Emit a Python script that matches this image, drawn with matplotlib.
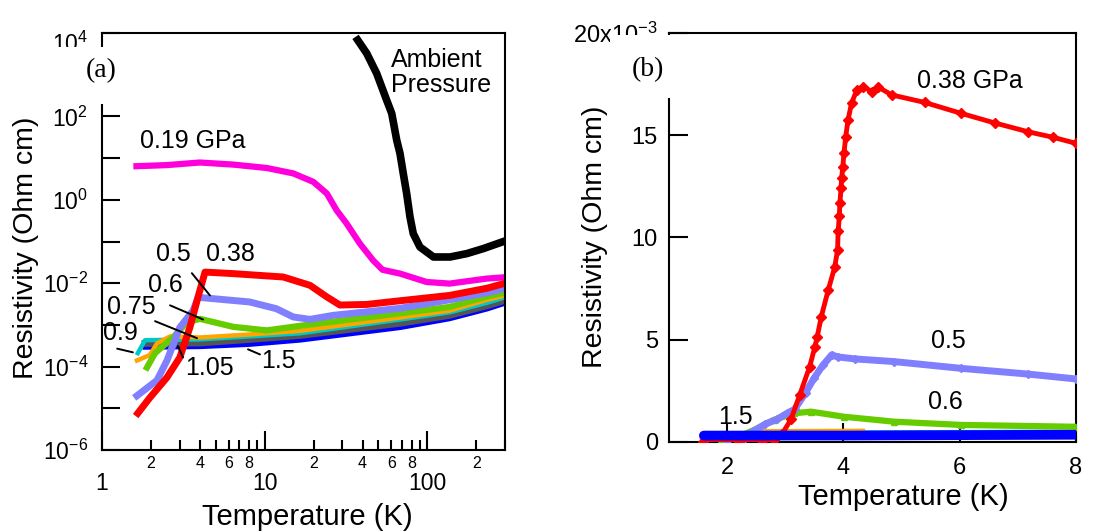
import numpy as np
import matplotlib.pyplot as plt
from matplotlib.ticker import (FixedLocator, FuncFormatter, NullFormatter,
                               FixedFormatter)
from matplotlib.patches import Rectangle

plt.rcParams['font.family'] = 'Liberation Sans'
plt.rcParams['mathtext.fontset'] = 'custom'
plt.rcParams['mathtext.rm'] = 'Liberation Sans'
plt.rcParams['mathtext.it'] = 'Liberation Sans:italic'
plt.rcParams['mathtext.default'] = 'regular'
plt.rcParams['axes.linewidth'] = 1.5

# ---- panel (a): log-log, resistivity in Ohm cm ----
amb_T = [37.3, 42.4, 48.8, 56.2, 60.4, 64.8, 67.9, 71.1, 74.6, 78.2, 81.9, 90, 109, 138, 175, 221, 300]
amb_rho = [6790, 3250, 1076, 246, 118, 27, 12.9, 4.3, 1.42, 0.39, 0.155, 0.074, 0.0426, 0.0426, 0.0514, 0.0678, 0.103]

p019_T = [1.63, 2.5, 4.0, 6.4, 10.3, 15.0, 19.9, 24.1, 27.7, 31.9, 38.5, 46.5, 53, 68, 99, 137, 231, 300]
p019_rho = [6.4, 6.8, 7.85, 7.0, 5.8, 4.3, 2.7, 1.42, 0.56, 0.27, 0.089, 0.035, 0.021, 0.017, 0.0107, 0.0098, 0.0129, 0.0139]

p038_T = [1.66, 1.97, 2.51, 3.01, 3.47, 3.89, 4.3, 6.4, 13.0, 19.0, 24.1, 29, 42.4, 68, 137, 233, 300]
p038_rho = [7.6e-6, 1.8e-5, 5.5e-5, 1.66e-4, 8.7e-4, 4.6e-3, 0.0185, 0.017, 0.0141, 0.0089, 0.0047, 0.0030, 0.0031, 0.0038, 0.0051, 0.0076, 0.010]

p05_T = [1.64, 2.18, 2.51, 3.01, 3.63, 3.9, 8.1, 11.8, 15.0, 19.0, 26.4, 68, 137, 233, 300]
p05_rho = [2.0e-5, 4.7e-5, 1.4e-4, 8.7e-4, 2.2e-3, 4.6e-3, 3.55e-3, 2.45e-3, 1.55e-3, 1.36e-3, 1.7e-3, 2.5e-3, 4.0e-3, 5.9e-3, 7.6e-3]

p06_T = [1.89, 2.12, 2.73, 3.33, 4.0, 6.4, 10.3, 16.5, 68, 137, 233, 300]
p06_rho = [9.5e-5, 2.1e-4, 5.0e-4, 1.15e-3, 1.4e-3, 9.0e-4, 7.4e-4, 9.5e-4, 1.9e-3, 2.7e-3, 4.8e-3, 6.0e-3]

p075_T = [1.64, 1.97, 2.18, 2.62, 4.0, 8.1, 16.5, 68, 137, 233, 300]
p075_rho = [1.4e-4, 1.9e-4, 3.6e-4, 5.3e-4, 5.0e-4, 5.9e-4, 7.2e-4, 1.5e-3, 2.2e-3, 4.0e-3, 5.1e-3]

p09_T = [1.66, 1.84, 4.0, 16.5, 68, 137, 233, 300]
p09_rho = [2.1e-4, 4.3e-4, 4.5e-4, 6.3e-4, 1.35e-3, 2.0e-3, 3.4e-3, 4.6e-3]

p105_T = [1.84, 4.0, 8.1, 16.5, 68, 137, 233, 300]
p105_rho = [3.6e-4, 3.7e-4, 4.5e-4, 5.6e-4, 1.1e-3, 1.7e-3, 2.9e-3, 3.9e-3]

p15_T = [1.84, 4.0, 8.1, 16.5, 68, 137, 233, 300]
p15_rho = [2.9e-4, 3.0e-4, 3.4e-4, 4.3e-4, 8.6e-4, 1.4e-3, 2.4e-3, 3.3e-3]

# ---- panel (b): linear, resistivity in 10^-3 Ohm cm ----
r038_T = [1.59, 2.2, 2.6, 2.8, 2.95, 3.1, 3.25, 3.42, 3.51, 3.55, 3.62, 3.74, 3.85, 3.9, 3.91, 3.93,
          3.94, 3.96, 3.97, 3.99, 4.01, 4.04, 4.08, 4.14, 4.23, 4.34, 4.49, 4.6, 4.83, 5.4, 6.02, 6.6,
          7.17, 7.6, 8.0]
r038_rho = [0.0, 0.0, 0.03, 0.1, 0.4, 1.1, 2.3, 3.67, 4.65, 5.14, 6.12, 7.43, 8.54, 9.38, 10.31, 11.05,
            11.7, 12.4, 12.89, 13.46, 14.12, 14.93, 15.75, 16.56, 17.2, 17.38, 17.13, 17.35, 16.97, 16.6,
            16.07, 15.6, 15.17, 14.9, 14.6]

r05_T = [1.59, 2.0, 2.3, 2.45, 2.65, 2.86, 3.05, 3.16, 3.35, 3.5, 3.65, 3.8, 3.9, 4.2, 4.87, 6.02, 7.17, 8.0]
r05_rho = [0.0, 0.05, 0.2, 0.5, 0.85, 1.1, 1.42, 1.58, 2.4, 3.13, 3.75, 4.25, 4.15, 4.05, 3.92, 3.59, 3.31, 3.07]

r06_T = [1.9, 2.2, 2.46, 2.8, 3.15, 3.44, 4.01, 4.87, 6.02, 8.0]
r06_rho = [0.1, 0.25, 0.57, 1.06, 1.39, 1.47, 1.22, 0.98, 0.82, 0.73]

r075_T = [1.6, 2.0, 2.45, 4.35]
r075_rho = [0.1, 0.2, 0.55, 0.57]

r09_T = [1.6, 4.0, 8.0]
r09_rho = [0.3, 0.45, 0.5]

r105_T = [1.6, 4.0, 8.0]
r105_rho = [0.35, 0.37, 0.45]

r15_T = [1.6, 2.0, 4.0, 6.0, 8.0]
r15_rho = [0.3, 0.3, 0.3, 0.32, 0.34]

c_red = '#FF0000'
c_lav = '#8080FF'
c_grn = '#66CC00'
c_org = '#FFA500'
c_cyn = '#00C8C8'
c_gry = '#555555'
c_blu = '#0000FF'
c_mag = '#FF00DD'

fig = plt.figure(figsize=(10.94, 5.31), dpi=100)
ax1 = fig.add_axes([0.0932, 0.1525, 0.3684, 0.7853])
ax2 = fig.add_axes([0.6115, 0.1682, 0.3720, 0.7697])

# panel (a)
ax1.plot(amb_T, amb_rho, color='k', lw=5.5)
ax1.plot(p019_T, p019_rho, color=c_mag, lw=4.5)
ax1.plot(p15_T, p15_rho, color=c_blu, lw=3.5)
ax1.plot(p105_T, p105_rho, color=c_gry, lw=5)
ax1.plot(p09_T, p09_rho, color=c_cyn, lw=3.2)
ax1.plot(p075_T, p075_rho, color=c_org, lw=3.2)
ax1.plot(p06_T, p06_rho, color=c_grn, lw=4.5)
ax1.plot(p05_T, p05_rho, color=c_lav, lw=5)
ax1.plot(p038_T, p038_rho, color=c_red, lw=5)

ax1.set_xscale('log')
ax1.set_yscale('log')
ax1.set_xlim(1, 300)
ax1.set_ylim(1e-6, 1e4)

ax1.xaxis.set_major_locator(FixedLocator([1, 10, 100]))
ax1.xaxis.set_major_formatter(FuncFormatter(lambda v, p: '%g' % v))
ax1.xaxis.set_minor_locator(FixedLocator([m * d for d in (1, 10, 100) for m in range(2, 10) if m * d <= 300]))


def minor_label(v, pos):
    m = int(round(v / 10 ** np.floor(np.log10(v) + 1e-9)))
    return str(m) if m in (2, 4, 6, 8) else ''


def decade_label(v, pos):
    # the top label is placed by hand a little lower
    e = int(round(np.log10(v)))
    return '' if e == 4 else '$10^{%d}$' % e


ax1.xaxis.set_minor_formatter(FuncFormatter(minor_label))
ax1.yaxis.set_major_locator(FixedLocator([1e-6, 1e-4, 1e-2, 1, 1e2, 1e4]))
ax1.yaxis.set_minor_locator(FixedLocator([1e-5, 1e-3, 1e-1, 1e1, 1e3]))
ax1.yaxis.set_major_formatter(FuncFormatter(decade_label))
ax1.yaxis.set_minor_formatter(NullFormatter())

ax1.tick_params(axis='y', which='both', direction='in', length=13, width=1.5, labelsize=16.5, pad=10)
ax1.tick_params(axis='x', which='major', direction='in', length=14, width=1.5, labelsize=16.5, pad=16)
ax1.tick_params(axis='x', which='minor', direction='in', length=7, width=1.5, labelsize=11.5, pad=4)
ax1.annotate('$10^{4}$', xy=(0, 1), xycoords='axes fraction', xytext=(-10, -6),
             textcoords='offset points', ha='right', va='center_baseline', fontsize=16.5)

ax1.set_xlabel('Temperature (K)', fontsize=21)
ax1.set_ylabel('Resistivity (Ohm cm)', fontsize=20.5)
ax1.xaxis.set_label_coords(0.509, -0.127)
ax1.yaxis.set_label_coords(-0.156, 0.484)

ax1.text(3.6, 25.7, '0.19 GPa', fontsize=18, ha='center', va='center')
ax1.text(59.7, 4370, 'Ambient\nPressure', fontsize=18, ha='left', va='top', linespacing=1.05)

labels_a = [('0.5', 2.75, 0.049), ('0.38', 6.12, 0.049), ('0.6', 2.46, 8.9e-3),
            ('0.75', 1.51, 2.7e-3), ('0.9', 1.30, 6.4e-4), ('1.05', 4.55, 9.3e-5),
            ('1.5', 12.2, 1.4e-4)]
for s, x, y in labels_a:
    ax1.text(x, y, s, fontsize=18, ha='center', va='center')

leaders_a = [((3.57, 0.0174), (4.61, 5.1e-3)), ((2.62, 2.95e-3), (4.18, 1.35e-3)),
             ((2.12, 1.23e-3), (3.84, 4.8e-4)), ((1.24, 2.7e-4), (1.55, 2.2e-4)),
             ((2.93, 3.1e-4), (3.15, 1.66e-4)), ((7.9, 2.6e-4), (9.36, 1.96e-4))]
for start, end in leaders_a:
    ax1.annotate('', xy=end, xytext=start,
                 arrowprops=dict(arrowstyle='-', color='k', lw=1.4, shrinkA=0, shrinkB=0))

# panel (b)
ax2.plot(r15_T, r15_rho, color=c_blu, lw=7, solid_capstyle='round', zorder=3)
ax2.plot(r105_T, r105_rho, color=c_gry, lw=3, zorder=2)
ax2.plot(r09_T, r09_rho, color=c_cyn, lw=3, zorder=2)
ax2.plot(r075_T, r075_rho, color=c_org, lw=2, zorder=2.5)
ax2.plot(r06_T, r06_rho, color=c_grn, lw=4.5, marker='^', ms=4, zorder=2.6)
ax2.plot(r05_T, r05_rho, color=c_lav, lw=5, marker='D', ms=4, zorder=2.7)
ax2.plot(r038_T, r038_rho, color=c_red, lw=3.5, marker='D', ms=5, zorder=2.8)

ax2.set_xlim(1, 8)
ax2.set_ylim(0, 20)
ax2.xaxis.set_major_locator(FixedLocator([2, 4, 6, 8]))
ax2.yaxis.set_major_locator(FixedLocator([0, 5, 10, 15, 20]))
ax2.yaxis.set_major_formatter(FixedFormatter(['0', '5', '10', '15', '20x10$^{-3}$']))
ax2.tick_params(axis='both', which='major', direction='in', length=13.5, width=1.5, labelsize=17)
ax2.tick_params(axis='y', pad=8)
ax2.tick_params(axis='x', pad=11)

ax2.set_xlabel('Temperature (K)', fontsize=21)
ax2.set_ylabel('Resistivity (Ohm cm)', fontsize=20.5)
ax2.xaxis.set_label_coords(0.577, -0.1)
ax2.yaxis.set_label_coords(-0.150, 0.502)

ax2.text(5.27, 17.63, '0.38 GPa', fontsize=18, ha='left', va='center')
ax2.text(5.81, 4.95, '0.5', fontsize=18, ha='center', va='center')
ax2.text(5.76, 1.92, '0.6', fontsize=18, ha='center', va='center')
ax2.text(2.14, 1.23, '1.5', fontsize=18, ha='center', va='center')

# white boxes behind the panel tags (they cut into the frame)
W, H = 1094, 531
fig.add_artist(Rectangle((40 / W, 1 - 104 / H), 85 / W, 57 / H, transform=fig.transFigure,
                         facecolor='white', edgecolor='none', zorder=5))
fig.add_artist(Rectangle((610 / W, 1 - 98 / H), 70 / W, 63 / H, transform=fig.transFigure,
                         facecolor='white', edgecolor='none', zorder=5))
fig.text(101 / W, 1 - 71 / H, '(a)', fontsize=20, family='Liberation Serif',
         ha='center', va='center', zorder=6)
fig.text(648 / W, 1 - 70 / H, '(b)', fontsize=20, family='Liberation Serif',
         ha='center', va='center', zorder=6)

fig.savefig('out.png', dpi=100)
